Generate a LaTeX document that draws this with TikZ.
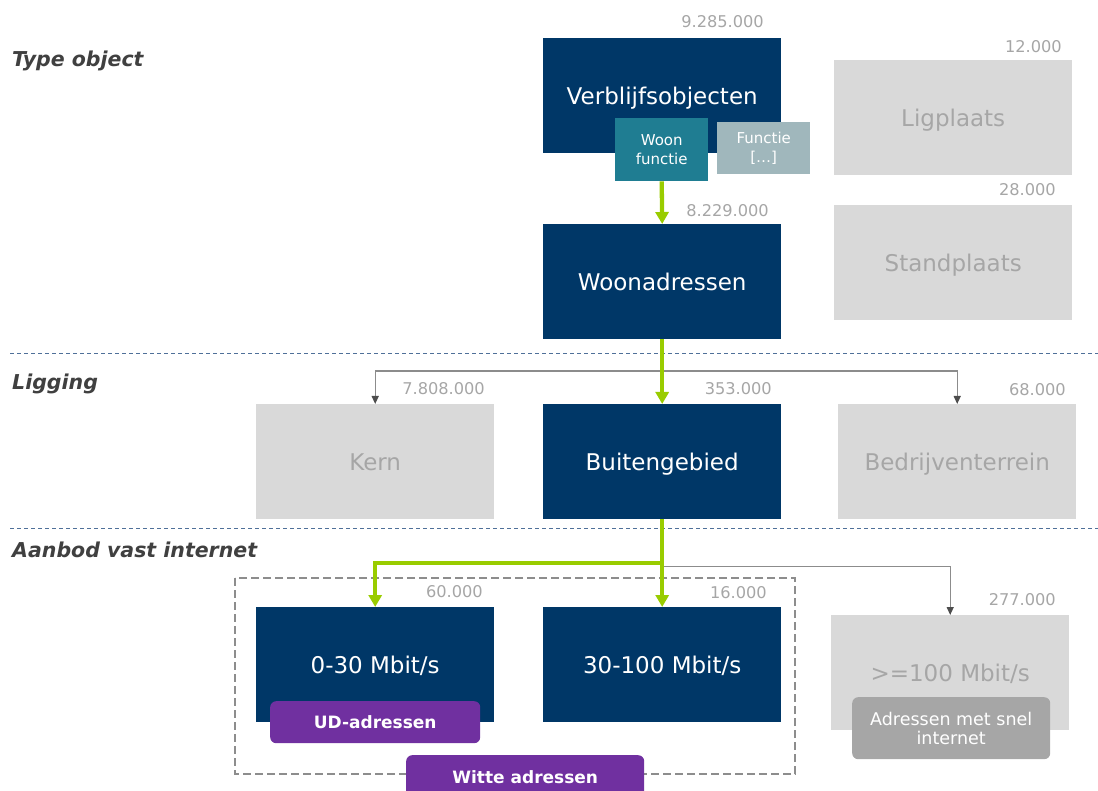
\documentclass[tikz,border=0pt]{standalone}
\usepackage{fontspec}
\setmainfont{DejaVu Sans}
\usetikzlibrary{arrows.meta,positioning}

\definecolor{navy}{HTML}{003767}
\definecolor{teal}{HTML}{1F7D92}
\definecolor{paleteal}{HTML}{A0B7BC}
\definecolor{boxgrey}{HTML}{D9D9D9}
\definecolor{textgrey}{HTML}{A6A6A6}
\definecolor{darktext}{HTML}{404040}
\definecolor{linegrey}{HTML}{8C8C8C}
\definecolor{arrowgrey}{HTML}{4D4D4D}
\definecolor{lime}{HTML}{99CC00}
\definecolor{purp}{HTML}{7030A0}
\definecolor{sepblue}{HTML}{4F7099}

\begin{document}
\begin{tikzpicture}[x=1pt,y=-1pt,
    mainbox/.style={fill=navy,text=white,minimum width=238pt,minimum height=115pt,
        inner sep=0pt,anchor=north west,text height=20pt,text depth=2pt,
        font={\fontsize{23}{27}\selectfont}},
    greybox/.style={mainbox,fill=boxgrey,text=textgrey},
    count/.style={text=textgrey,anchor=east,inner sep=0pt,font={\fontsize{16.2}{19}\selectfont}},
    section/.style={text=darktext,anchor=west,inner sep=0pt,
        font={\fontsize{20.5}{24}\selectfont\bfseries\itshape}},
    subbox/.style={inner sep=0pt,anchor=north west,text=white,align=center,
        font={\fontsize{15}{19}\selectfont}},
    tag/.style={rounded corners=6pt,fill=purp,text=white,inner sep=0pt,anchor=north west,
        font={\fontsize{17}{20}\selectfont\bfseries}},
    flow/.style={draw=lime,line width=4.3pt,-{Triangle[width=13pt,length=12pt]}},
    side/.style={draw=linegrey,line width=1.3pt,-{Triangle[width=7pt,length=8pt,color=arrowgrey]}},
    separator/.style={draw=sepblue,line width=1pt,dash pattern=on 4pt off 3pt},
    ]
    \useasboundingbox (0,0) rectangle (1098,791);

    % Section separators
    \draw[separator] (10,353.5) -- (1098,353.5);
    \draw[separator] (10,528) -- (1098,528);

    % Section labels
    \node[section] (typeobj) at (12,61) {Type object};
    \node[section] (ligging) at (12,384) {Ligging};
    \node[section] (aanbod) at (12,550) {Aanbod vast internet};

    % Type object
    \node[mainbox] (verblijf) at (543,38) {Verblijfsobjecten};
    \node[greybox] (ligplaats) at (834,60) {Ligplaats};
    \node[greybox] (standplaats) at (834,205) {Standplaats};
    \node[mainbox] (woonadr) at (543,224) {Woonadressen};
    \node[subbox,fill=teal,minimum width=93pt,minimum height=63pt] (woonf) at (615,118)
        {Woon\\functie};
    \node[subbox,fill=paleteal,minimum width=93pt,minimum height=52pt] (functie) at (717,122)
        {Functie\\{[…]}};

    \node[count] (c1) at (764,22) {9.285.000};
    \node[count] (c2) at (1062,47) {12.000};
    \node[count] (c3) at (1056,190) {28.000};
    \node[count] (c4) at (769,211) {8.229.000};

    % Ligging
    \node[greybox] (kern) at (256,404) {Kern};
    \node[mainbox] (buiten) at (543,404) {Buitengebied};
    \node[greybox] (bedrijf) at (838,404) {Bedrijventerrein};

    \node[count] (c5) at (485,389) {7.808.000};
    \node[count] (c6) at (772,389) {353.000};
    \node[count] (c7) at (1066,390) {68.000};

    % Aanbod vast internet
    \draw[draw=textgrey!85!black,line width=2.5pt,dash pattern=on 8pt off 4pt]
        (235,578) rectangle (795,774);
    \node[mainbox] (mb30) at (256,607) {0-30 Mbit/s};
    \node[mainbox] (mb100) at (543,607) {30-100 Mbit/s};
    \node[greybox] (mbsnel) at (831,615) {>=100 Mbit/s};

    \node[count] (c8) at (483,592) {60.000};
    \node[count] (c9) at (767,593) {16.000};
    \node[count] (c10) at (1056,600) {277.000};

    \node[tag,minimum width=210pt,minimum height=42pt] (udadr) at (270,701) {UD-adressen};
    \node[tag,minimum width=238pt,minimum height=48pt] (witte) at (406,755)
        {\raisebox{4pt}{Witte adressen}};
    \node[tag,fill=textgrey,font={\fontsize{17.5}{19}\selectfont},align=center,
        minimum width=198pt,minimum height=62pt] (snel) at (852,697)
        {Adressen met snel\\internet};

    % Split points
    \coordinate (split1) at (661,371);
    \coordinate (split2) at (661,563);
    \coordinate (split3) at (661,566.5);

    % Other branches
    \draw[side] (split1) -| (kern.north);
    \draw[side] (split1) -| (bedrijf.north);
    \draw[side] (split3) -| (mbsnel.north);

    % Selected path
    \draw[flow] (woonf.south) -- (woonadr.north);
    \draw[flow] (woonadr.south) -- (buiten.north);
    \draw[flow] (buiten.south) -- (mb100.north);
    \draw[flow] (split2) -| (mb30.north);

\end{tikzpicture}
\end{document}
